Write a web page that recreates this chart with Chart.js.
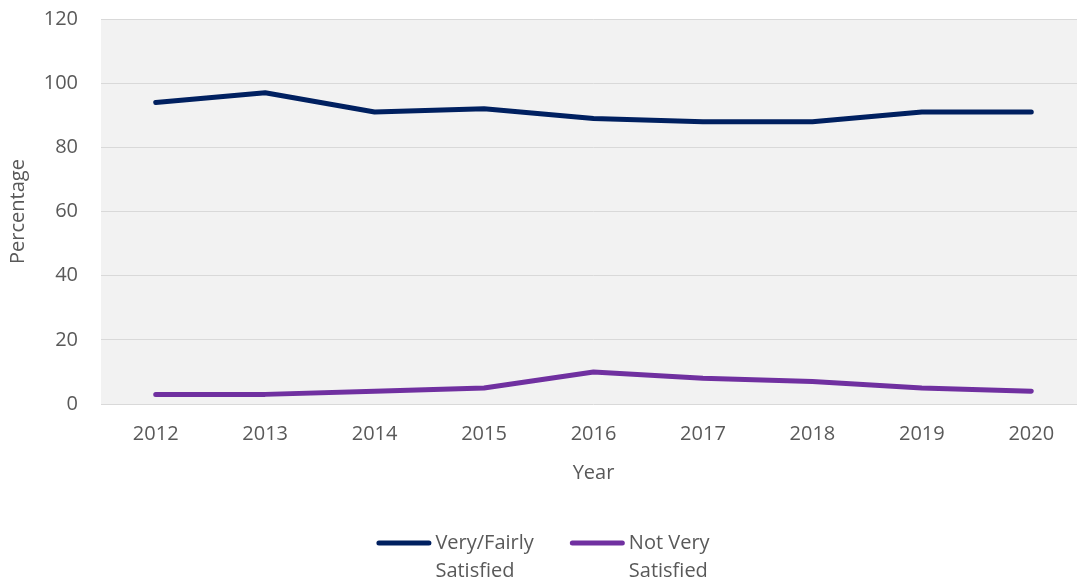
<!DOCTYPE html>
<html>
<head>
<meta charset="utf-8">
<script src="https://cdn.jsdelivr.net/npm/chart.js@4"></script>
<style>
  html, body { margin: 0; padding: 0; background: #fff; overflow: hidden; }
  /* a área de plotagem passa um pouco da borda direita, como no original */
  #wrap { width: 1086px; height: 582px; }
</style>
</head>
<body>
<div id="wrap"><canvas id="grafico"></canvas></div>
<script>
// dados
const anos = ['2012', '2013', '2014', '2015', '2016', '2017', '2018', '2019', '2020'];
const satisfeitos = [94, 97, 91, 92, 89, 88, 88, 91, 91];
const naoSatisfeitos = [3, 3, 4, 5, 10, 8, 7, 5, 4];
const rotulos = [['Very/Fairly', 'Satisfied'], ['Not Very', 'Satisfied']];

const cinzaTexto = '#595959';
const fonte = { family: "'Open Sans', sans-serif", size: 20 };

// fundo cinza da área do gráfico
const fundoPlot = {
    id: 'fundoPlot',
    beforeDraw: function(chart) {
        const a = chart.chartArea;
        const ctx = chart.ctx;
        ctx.save();
        ctx.fillStyle = '#f2f2f2';
        ctx.fillRect(a.left, a.top, a.right - a.left, a.bottom - a.top);
        ctx.restore();
    }
};

// legenda em duas linhas, embaixo
const legendaBaixo = {
    id: 'legendaBaixo',
    afterDraw: function(chart) {
        const ctx = chart.ctx;
        const amostra = 55, gapTexto = 4, gapItem = 36, yLinha = 543, altLinha = 28, centro = 543;
        ctx.save();
        ctx.font = '20px ' + fonte.family;
        const larguras = chart.data.datasets.map(ds =>
            amostra + gapTexto + Math.max(...ds.label.map(t => ctx.measureText(t).width)));
        const total = larguras.reduce((a, b) => a + b, 0) + gapItem * (larguras.length - 1);
        let x = centro - total / 2;
        chart.data.datasets.forEach((ds, i) => {
            ctx.strokeStyle = ds.borderColor;
            ctx.lineWidth = 5;
            ctx.lineCap = 'round';
            ctx.beginPath();
            ctx.moveTo(x + 2.5, yLinha);
            ctx.lineTo(x + amostra - 2.5, yLinha);
            ctx.stroke();
            ctx.fillStyle = cinzaTexto;
            ctx.textAlign = 'left';
            ctx.textBaseline = 'middle';
            ds.label.forEach((t, k) => ctx.fillText(t, x + amostra + gapTexto, yLinha + k * altLinha));
            x += larguras[i] + gapItem;
        });
        ctx.restore();
    }
};

new Chart(document.getElementById('grafico'), {
    type: 'line',
    data: {
        labels: anos,
        datasets: [
            {
                label: rotulos[0],
                data: satisfeitos,
                borderColor: '#002060',
                borderWidth: 5,
                borderCapStyle: 'round',
                borderJoinStyle: 'round',
                pointRadius: 0,
                tension: 0
            },
            {
                label: rotulos[1],
                data: naoSatisfeitos,
                borderColor: '#7030a0',
                borderWidth: 5,
                borderCapStyle: 'round',
                borderJoinStyle: 'round',
                pointRadius: 0,
                tension: 0
            }
        ]
    },
    options: {
        responsive: true,
        maintainAspectRatio: false,
        animation: false,
        layout: { padding: { top: 19, right: 0, bottom: 97, left: 6 } },
        plugins: {
            tooltip: { enabled: false },
            legend: { display: false }
        },
        scales: {
            x: {
                offset: true,
                grid: { display: false },
                border: { display: false },
                ticks: { color: cinzaTexto, font: fonte, padding: 10, maxRotation: 0 },
                title: { display: true, text: 'Year', color: cinzaTexto, font: fonte, padding: { top: 5, bottom: 0 } }
            },
            y: {
                min: 0,
                max: 120,
                grid: { color: '#d9d9d9', lineWidth: 1, drawTicks: true, tickLength: 23, tickColor: 'rgba(0,0,0,0)' },
                border: { display: false },
                ticks: { stepSize: 20, color: cinzaTexto, font: fonte, padding: 0 },
                title: { display: true, text: 'Percentage', color: cinzaTexto, font: fonte, padding: 0 },
                afterFit: function(scale) { scale.width = 95; }
            }
        }
    },
    plugins: [fundoPlot, legendaBaixo]
});
</script>
</body>
</html>
